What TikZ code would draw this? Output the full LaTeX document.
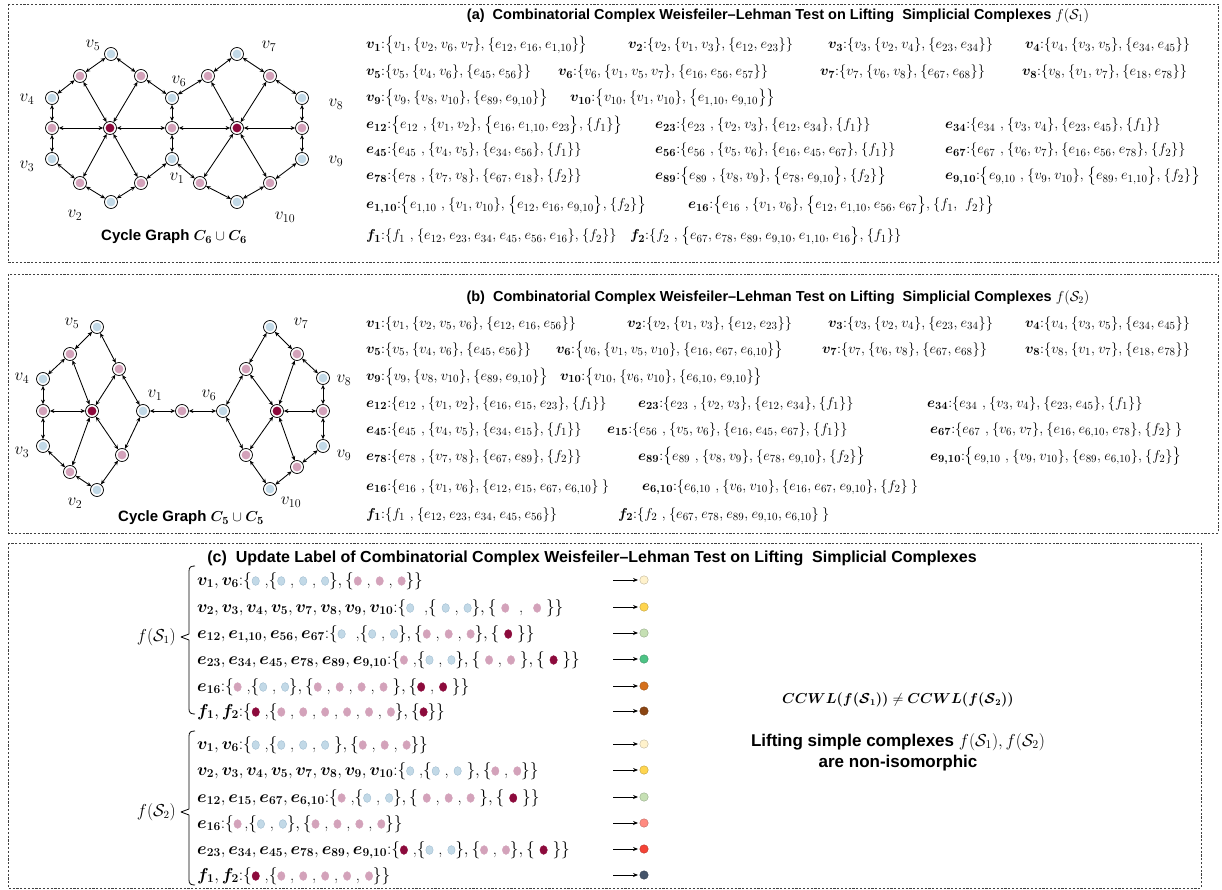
\documentclass[tikz,border=0pt]{standalone}
\usepackage{amsmath,amssymb}
\usepackage{bm}
\usepackage{fontspec}
\setsansfont{Liberation Sans}
\usetikzlibrary{arrows.meta}
\definecolor{nb}{HTML}{C2D9E7}
\definecolor{nbd}{HTML}{9FBCD0}
\definecolor{np}{HTML}{D3A2BA}
\definecolor{nd}{HTML}{8C0A3C}
\definecolor{rA}{HTML}{FFF2CC}
\definecolor{rB}{HTML}{FFD54F}
\definecolor{rC}{HTML}{C6E0B4}
\definecolor{rD}{HTML}{4DC385}
\definecolor{rE}{HTML}{D5701C}
\definecolor{rF}{HTML}{8B4513}
\definecolor{rG}{HTML}{FF8A80}
\definecolor{rH}{HTML}{F44336}
\definecolor{rI}{HTML}{44546A}
\newcommand{\BV}[1]{\bm{v_{#1}}}
\newcommand{\BE}[1]{\bm{e_{#1}}}
\newcommand{\BF}[1]{\bm{f_{#1}}}
\newcommand{\cc}{{,}}
\newcommand{\DB}{\tikz[baseline=-4pt,x=1pt,y=1pt]\filldraw[fill=nb,draw=nbd,line width=0.4pt](0,0) ellipse [x radius=3.7, y radius=4.4];}
\newcommand{\DP}{\tikz[baseline=-4pt,x=1pt,y=1pt]\filldraw[fill=np,draw=np,line width=0.4pt](0,0) ellipse [x radius=3.7, y radius=4.4];}
\newcommand{\DD}{\tikz[baseline=-4pt,x=1pt,y=1pt]\filldraw[fill=nd,draw=nd,line width=0.4pt](0,0) ellipse [x radius=3.7, y radius=4.4];}
\newcommand{\cm}{\hskip5pt,\hskip5pt}
\newcommand{\widecomma}{\thinmuskip=4mu\relax}
\tikzset{
  dbox/.style={draw=black!75, dash pattern=on 2.2pt off 1.6pt, line width=0.6pt},
  gn/.style={circle, draw=black, line width=0.75pt, fill=white, minimum size=13pt, inner sep=0pt,
     path picture={\fill[#1] (path picture bounding box.center) circle (4.4pt);}},
  ed/.style={{Stealth[length=4.5pt,width=4pt]}-{Stealth[length=4.5pt,width=4pt]}, line width=0.85pt},
  lab/.style={font=\fontsize{17}{17}\selectfont, inner sep=0pt},
  ttl/.style={font=\fontsize{14.5}{16}\selectfont\sffamily\bfseries, inner sep=0pt},
  captxt/.style={font=\fontsize{15}{17}\selectfont\sffamily\bfseries, inner sep=0pt},
  rowtxt/.style={anchor=base west, inner sep=0pt, font=\fontsize{15}{17}\selectfont, execute at begin node=\widecomma},
  erow/.style={anchor=base west, inner sep=0pt, font=\fontsize{15.5}{17}\selectfont, execute at begin node=\widecomma},
  crow/.style={anchor=base west, inner sep=0pt, font=\fontsize{16.5}{18}\selectfont},
  arr/.style={-{Stealth[length=5pt,width=4pt]}, line width=0.9pt, shorten >=1.5pt},
  res/.style={circle, minimum size=8.5pt, inner sep=0pt, draw=#1!75!black, fill=#1, line width=0.4pt},
  brk/.style={line width=0.8pt, line join=round}
}
\begin{document}
\begin{tikzpicture}[x=1pt,y=-1pt]
\useasboundingbox (0,0) rectangle (1222,890);
% panels
\draw[dbox] (8,4) rectangle (1218,262);
\draw[dbox] (8,274) rectangle (1218,533);
\draw[dbox] (8,543) rectangle (1201,888);

% ---------- graph (a)
\node[gn=nb] (aV5) at (111,54) {};
\node[gn=np] (aP45) at (80,76) {};
\node[gn=np] (aP56) at (141,76) {};
\node[gn=nb] (aV4) at (52,98) {};
\node[gn=np] (aP34) at (52,128) {};
\node[gn=nb] (aV3) at (52,159) {};
\node[gn=np] (aP23) at (80,183) {};
\node[gn=nb] (aV2) at (111,202) {};
\node[gn=np] (aP12) at (141,183) {};
\node[gn=nd] (aF1) at (110,128) {};
\node[gn=nb] (aV6) at (172,98) {};
\node[gn=np] (aP16) at (172,128) {};
\node[gn=nb] (aV1) at (172,159) {};
\node[gn=np] (aP67) at (208,76) {};
\node[gn=nb] (aV7) at (237,54) {};
\node[gn=np] (aP78) at (270,76) {};
\node[gn=nb] (aV8) at (302,98) {};
\node[gn=np] (aP89) at (302,128) {};
\node[gn=nb] (aV9) at (302,159) {};
\node[gn=np] (aP910) at (270,183) {};
\node[gn=nb] (aV10) at (237,202) {};
\node[gn=np] (aP110) at (200,183) {};
\node[gn=nd] (aF2) at (237,128) {};
\foreach \a/\b in {aV5/aP45,aP45/aV4,aV4/aP34,aP34/aV3,aV3/aP23,aP23/aV2,aV2/aP12,aP12/aV1,aV1/aP16,aP16/aV6,aV6/aP56,aP56/aV5,
  aF1/aP45,aF1/aP56,aF1/aP34,aF1/aP23,aF1/aP12,aF1/aP16,
  aV6/aP67,aP67/aV7,aV7/aP78,aP78/aV8,aV8/aP89,aP89/aV9,aV9/aP910,aP910/aV10,aV10/aP110,aP110/aV1,
  aF2/aP67,aF2/aP78,aF2/aP89,aF2/aP910,aF2/aP110,aF2/aP16}
  \draw[ed] (\a) -- (\b);
\node[lab] (laV5) at (93,45) {$v_5$};
\node[lab] (laV7) at (269,46) {$v_7$};
\node[lab] (laV6) at (179,81) {$v_6$};
\node[lab] (laV4) at (27,99) {$v_4$};
\node[lab] (laV8) at (336,104) {$v_8$};
\node[lab] (laV3) at (27,166) {$v_3$};
\node[lab] (laV9) at (336,161) {$v_9$};
\node[lab] (laV1) at (177,178) {$v_1$};
\node[lab] (laV2) at (75,215) {$v_2$};
\node[lab] (laV10) at (285,217) {$v_{10}$};
\node[captxt] (capa) at (174,237) {Cycle Graph $\bm{C_6}\cup\bm{C_6}$};

% ---------- graph (b)
\node[gn=nb] (bV5) at (97,327) {};
\node[gn=np] (bP45) at (70,354) {};
\node[gn=nb] (bV4) at (43,379) {};
\node[gn=np] (bP34) at (43,411) {};
\node[gn=nb] (bV3) at (43,446) {};
\node[gn=np] (bP23) at (70,472) {};
\node[gn=nb] (bV2) at (97,490) {};
\node[gn=np] (bP12) at (122,455) {};
\node[gn=nb] (bV1) at (143,411) {};
\node[gn=np] (bP15) at (119,369) {};
\node[gn=nd] (bF1) at (92,411) {};
\node[gn=np] (bP16) at (182,411) {};
\node[gn=nb] (bV6) at (223,411) {};
\node[gn=np] (bP67) at (246,369) {};
\node[gn=nb] (bV7) at (270,327) {};
\node[gn=np] (bP78) at (297,354) {};
\node[gn=nb] (bV8) at (323,378) {};
\node[gn=np] (bP89) at (323,411) {};
\node[gn=nb] (bV9) at (323,446) {};
\node[gn=np] (bP910) at (297,467) {};
\node[gn=nb] (bV10) at (270,489) {};
\node[gn=np] (bP610) at (246,455) {};
\node[gn=nd] (bF2) at (277,411) {};
\foreach \a/\b in {bV5/bP45,bP45/bV4,bV4/bP34,bP34/bV3,bV3/bP23,bP23/bV2,bV2/bP12,bP12/bV1,bV1/bP15,bP15/bV5,
  bF1/bP45,bF1/bP15,bF1/bP34,bF1/bP23,bF1/bP12,
  bV1/bP16,bP16/bV6,
  bV6/bP67,bP67/bV7,bV7/bP78,bP78/bV8,bV8/bP89,bP89/bV9,bV9/bP910,bP910/bV10,bV10/bP610,bP610/bV6,
  bF2/bP67,bF2/bP78,bF2/bP89,bF2/bP910,bF2/bP610}
  \draw[ed] (\a) -- (\b);
\node[lab] (lbV5) at (72,323) {$v_5$};
\node[lab] (lbV4) at (22,378) {$v_4$};
\node[lab] (lbV3) at (22,452) {$v_3$};
\node[lab] (lbV2) at (75,503) {$v_2$};
\node[lab] (lbV1) at (155,395) {$v_1$};
\node[lab] (lbV6) at (209,395) {$v_6$};
\node[lab] (lbV7) at (301,323) {$v_7$};
\node[lab] (lbV8) at (344,380) {$v_8$};
\node[lab] (lbV9) at (344,455) {$v_9$};
\node[lab] (lbV10) at (291,502) {$v_{10}$};
\node[captxt] (capb) at (191,518) {Cycle Graph $\bm{C_5}\cup\bm{C_5}$};

% ---------- text (a)
\node[ttl] (tta) at (778,16) {(a)\ \ Combinatorial Complex Weisfeiler–Lehman Test on Lifting\ \ Simplicial Complexes $f(\mathcal{S}_1)$};
\node[rowtxt] (a11) at (366,49) {$\BV{1}{:}\bigl\{v_1,\{v_2,v_6,v_7\},\{e_{12},e_{16},e_{1\cc10}\}\bigr\}$};
\node[rowtxt] (a12) at (628,49) {$\BV{2}{:}\{v_2,\{v_1,v_3\},\{e_{12},e_{23}\}\}$};
\node[rowtxt] (a13) at (828,49) {$\BV{3}{:}\{v_3,\{v_2,v_4\},\{e_{23},e_{34}\}\}$};
\node[rowtxt] (a14) at (1025,49) {$\BV{4}{:}\{v_4,\{v_3,v_5\},\{e_{34},e_{45}\}\}$};
\node[rowtxt] (a21) at (366,76) {$\BV{5}{:}\{v_5,\{v_4,v_6\},\{e_{45},e_{56}\}\}$};
\node[rowtxt] (a22) at (558,76) {$\BV{6}{:}\{v_6,\{v_1,v_5,v_7\},\{e_{16},e_{56},e_{57}\}\}$};
\node[rowtxt] (a23) at (820,76) {$\BV{7}{:}\{v_7,\{v_6,v_8\},\{e_{67},e_{68}\}\}$};
\node[rowtxt] (a24) at (1022,76) {$\BV{8}{:}\{v_8,\{v_1,v_7\},\{e_{18},e_{78}\}\}$};
\node[rowtxt] (a31) at (366,102) {$\BV{9}{:}\bigl\{v_9,\{v_8,v_{10}\},\{e_{89},e_{9\cc10}\}\bigr\}$};
\node[rowtxt] (a32) at (570,102) {$\BV{10}{:}\bigl\{v_{10},\{v_1,v_{10}\},\bigl\{e_{1\cc10},e_{9\cc10}\bigr\}\bigr\}$};
\node[erow] (a41) at (366,129) {$\BE{12}{:}\bigl\{e_{12}\ ,\{v_1,v_2\},\bigl\{e_{16},e_{1\cc10},e_{23}\bigr\},\{f_1\}\bigr\}$};
\node[erow] (a42) at (655,129) {$\BE{23}{:}\{e_{23}\ ,\{v_2,v_3\},\{e_{12},e_{34}\},\{f_1\}\}$};
\node[erow] (a43) at (945,129) {$\BE{34}{:}\{e_{34}\ ,\{v_3,v_4\},\{e_{23},e_{45}\},\{f_1\}\}$};
\node[erow] (a51) at (366,154) {$\BE{45}{:}\{e_{45}\ ,\{v_4,v_5\},\{e_{34},e_{56}\},\{f_1\}\}$};
\node[erow] (a52) at (655,154) {$\BE{56}{:}\{e_{56}\ ,\{v_5,v_6\},\{e_{16},e_{45},e_{67}\},\{f_1\}\}$};
\node[erow] (a53) at (945,154) {$\BE{67}{:}\{e_{67}\ ,\{v_6,v_7\},\{e_{16},e_{56},e_{78}\},\{f_2\}\}$};
\node[erow] (a61) at (366,180) {$\BE{78}{:}\{e_{78}\ ,\{v_7,v_8\},\{e_{67},e_{18}\},\{f_2\}\}$};
\node[erow] (a62) at (655,180) {$\BE{89}{:}\bigl\{e_{89}\ ,\{v_8,v_9\},\bigl\{e_{78},e_{9\cc10}\bigr\},\{f_2\}\bigr\}$};
\node[erow] (a63) at (945,180) {$\BE{9\cc10}{:}\bigl\{e_{9\cc10}\ ,\{v_9,v_{10}\},\bigl\{e_{89},e_{1\cc10}\bigr\},\{f_2\}\bigr\}$};
\node[erow] (a71) at (366,209) {$\BE{1\cc10}{:}\bigl\{e_{1\cc10}\ ,\{v_1,v_{10}\},\bigl\{e_{12},e_{16},e_{9\cc10}\bigr\},\{f_2\}\bigr\}$};
\node[erow] (a72) at (688,209) {$\BE{16}{:}\bigl\{e_{16}\ ,\{v_1,v_6\},\bigl\{e_{12},e_{1\cc10},e_{56},e_{67}\bigr\},\{f_1,\ f_2\}\bigr\}$};
\node[erow] (a81) at (366,240) {$\BF{1}{:}\{f_1\ ,\{e_{12},e_{23},e_{34},e_{45},e_{56},e_{16}\},\{f_2\}\}$};
\node[erow] (a82) at (630,240) {$\BF{2}{:}\{f_2\ ,\bigl\{e_{67},e_{78},e_{89},e_{9\cc10},e_{1\cc10},e_{16}\bigr\},\{f_1\}\}$};

% ---------- text (b)
\node[ttl] (ttb) at (778,298) {(b)\ \ Combinatorial Complex Weisfeiler–Lehman Test on Lifting\ \ Simplicial Complexes $f(\mathcal{S}_2)$};
\node[rowtxt] (b11) at (366,327) {$\BV{1}{:}\{v_1,\{v_2,v_5,v_6\},\{e_{12},e_{16},e_{56}\}\}$};
\node[rowtxt] (b12) at (627,327) {$\BV{2}{:}\{v_2,\{v_1,v_3\},\{e_{12},e_{23}\}\}$};
\node[rowtxt] (b13) at (828,327) {$\BV{3}{:}\{v_3,\{v_2,v_4\},\{e_{23},e_{34}\}\}$};
\node[rowtxt] (b14) at (1025,327) {$\BV{4}{:}\{v_4,\{v_3,v_5\},\{e_{34},e_{45}\}\}$};
\node[rowtxt] (b21) at (366,353) {$\BV{5}{:}\{v_5,\{v_4,v_6\},\{e_{45},e_{56}\}\}$};
\node[rowtxt] (b22) at (556,353) {$\BV{6}{:}\bigl\{v_6,\{v_1,v_5,v_{10}\},\{e_{16},e_{67},e_{6\cc10}\}\bigr\}$};
\node[rowtxt] (b23) at (822,353) {$\BV{7}{:}\{v_7,\{v_6,v_8\},\{e_{67},e_{68}\}\}$};
\node[rowtxt] (b24) at (1025,353) {$\BV{8}{:}\{v_8,\{v_1,v_7\},\{e_{18},e_{78}\}\}$};
\node[rowtxt] (b31) at (366,380) {$\BV{9}{:}\bigl\{v_9,\{v_8,v_{10}\},\{e_{89},e_{9\cc10}\}\bigr\}$};
\node[rowtxt] (b32) at (560,380) {$\BV{10}{:}\bigl\{v_{10},\{v_6,v_{10}\},\{e_{6\cc10},e_{9\cc10}\}\bigr\}$};
\node[erow] (b41) at (366,407) {$\BE{12}{:}\{e_{12}\ ,\{v_1,v_2\},\{e_{16},e_{15},e_{23}\},\{f_1\}\}$};
\node[erow] (b42) at (638,407) {$\BE{23}{:}\{e_{23}\ ,\{v_2,v_3\},\{e_{12},e_{34}\},\{f_1\}\}$};
\node[erow] (b43) at (927,407) {$\BE{34}{:}\{e_{34}\ ,\{v_3,v_4\},\{e_{23},e_{45}\},\{f_1\}\}$};
\node[erow] (b51) at (366,433) {$\BE{45}{:}\{e_{45}\ ,\{v_4,v_5\},\{e_{34},e_{15}\},\{f_1\}\}$};
\node[erow] (b52) at (607,433) {$\BE{15}{:}\{e_{56}\ ,\{v_5,v_6\},\{e_{16},e_{45},e_{67}\},\{f_1\}\}$};
\node[erow] (b53) at (930,433) {$\BE{67}{:}\{e_{67}\ ,\{v_6,v_7\},\{e_{16},e_{6\cc10},e_{78}\},\{f_2\}\,\}$};
\node[erow] (b61) at (366,460) {$\BE{78}{:}\{e_{78}\ ,\{v_7,v_8\},\{e_{67},e_{89}\},\{f_2\}\}$};
\node[erow] (b62) at (638,460) {$\BE{89}{:}\bigl\{e_{89}\ ,\{v_8,v_9\},\{e_{78},e_{9\cc10}\},\{f_2\}\bigr\}$};
\node[erow] (b63) at (930,460) {$\BE{9\cc10}{:}\bigl\{e_{9\cc10}\ ,\{v_9,v_{10}\},\{e_{89},e_{6\cc10}\},\{f_2\}\bigr\}$};
\node[erow] (b71) at (366,490) {$\BE{16}{:}\{e_{16}\ ,\{v_1,v_6\},\{e_{12},e_{15},e_{67},e_{6\cc10}\}\,\}$};
\node[erow] (b72) at (642,490) {$\BE{6\cc10}{:}\{e_{6\cc10}\ ,\{v_6,v_{10}\},\{e_{16},e_{67},e_{9\cc10}\},\{f_2\}\,\}$};
\node[erow] (b81) at (366,518) {$\BF{1}{:}\{f_1\ ,\{e_{12},e_{23},e_{34},e_{45},e_{56}\}\}$};
\node[erow] (b82) at (618,518) {$\BF{2}{:}\{f_2\ ,\{e_{67},e_{78},e_{89},e_{9\cc10},e_{6\cc10}\}\,\}$};

% ---------- (c)
\node[font=\fontsize{16}{18}\selectfont\sffamily\bfseries, inner sep=0pt] (ttc) at (592,558) {(c)\ \ Update Label of Combinatorial Complex Weisfeiler–Lehman Test on Lifting\ \ Simplicial Complexes};
\node[font=\fontsize{16}{16}\selectfont, inner sep=0pt, anchor=east] (fs1) at (176,637) {$f(\mathcal{S}_1)$};
\node[font=\fontsize{16}{16}\selectfont, inner sep=0pt, anchor=east] (fs2) at (176,812) {$f(\mathcal{S}_2)$};
\coordinate (k1) at (181,637);
\coordinate (k2) at (181,812);
\draw[brk] (195,566) .. controls (191,566) and (189,567) .. (189,571) -- (189,634) -- (k1) -- (189,640) -- (189,709) .. controls (189,713) and (191,714) .. (195,714);
\draw[brk] (195,731) .. controls (191,731) and (189,732) .. (189,736) -- (189,809) -- (k2) -- (189,815) -- (189,880) .. controls (189,884) and (191,885) .. (195,885);

\node[crow] (c11) at (197,585) {$\BV{1},\BV{6}{:}\{$\DB\ ,$\{$\DB\cm\DB\cm\DB$\},\{$\DP\cm\DP\cm\DP$\}\}$};
\node[crow] (c12) at (197,612) {$\BV{2},\BV{3},\BV{4},\BV{5},\BV{7},\BV{8},\BV{9},\BV{10}{:}\{$\DB\ \ ,$\{$\ \DB\cm\DB$\},\{$\ \DP\ \ ,\ \ \DP\ $\}\}$};
\node[crow] (c13) at (197,638) {$\BE{12},\BE{1\cc10},\BE{56},\BE{67}{:}\{$\DB\ \ ,$\{$\DB\cm\DB$\},\{$\DP\cm\DP\cm\DP$\},\{$\ \DD\ $\}\}$};
\node[crow] (c14) at (197,664) {$\BE{23},\BE{34},\BE{45},\BE{78},\BE{89},\BE{9\cc10}{:}\{$\DP\ ,$\{$\DB\cm\DB$\},\{$\ \DP\cm\DP\ $\},\{$\ \DD\ $\}\}$};
\node[crow] (c15) at (197,691) {$\BE{16}{:}\{$\DP\ ,$\{$\DB\cm\DB$\},\{$\DP\cm\DP\cm\DP\cm\DP\ $\},\{$\DD\cm\DD\ $\}\}$};
\node[crow] (c16) at (197,716) {$\BF{1},\BF{2}{:}\{$\DD\ ,$\{$\DP\cm\DP\cm\DP\cm\DP\cm\DP\cm\DP$\},\{$\DD$\}\}$};

\node[crow] (c21) at (197,749) {$\BV{1},\BV{6}{:}\{$\DB\ ,$\{$\DB\cm\DB\cm\DB\ $\},\{$\DP\cm\DP\cm\DP$\}\}$};
\node[crow] (c22) at (197,775) {$\BV{2},\BV{3},\BV{4},\BV{5},\BV{7},\BV{8},\BV{9},\BV{10}{:}\{$\DB\ ,$\{$\DB\cm\DB\ $\},\{$\DP\cm\DP$\}\}$};
\node[crow] (c23) at (197,802) {$\BE{12},\BE{15},\BE{67},\BE{6\cc10}{:}\{$\DP\ ,$\{$\DB\cm\DB$\},\{$\ \DP\cm\DP\cm\DP\ $\},\{$\ \DD\ $\}\}$};
\node[crow] (c24) at (197,828) {$\BE{16}{:}\{$\DP\,,$\{$\DB\cm\DB$\},\{$\DP\cm\DP\cm\DP\cm\DP$\}\}$};
\node[crow] (c25) at (197,854) {$\BE{23},\BE{34},\BE{45},\BE{78},\BE{89},\BE{9\cc10}{:}\{$\DD\ ,$\{$\DB\cm\DB$\},\{$\DP\cm\DP$\},\{$\ \DD\ $\}\}$};
\node[crow] (c26) at (197,880) {$\BF{1},\BF{2}{:}\{$\DD\ ,$\{$\DP\cm\DP\cm\DP\cm\DP\cm\DP$\}\}$};

% result arrows
\foreach \n/\y/\c in {1/580/rA,2/607/rB,3/633/rC,4/659/rD,5/686/rE,6/711/rF,7/744/rA,8/770/rB,9/797/rC,10/823/rG,11/849/rH,12/875/rI}{
  \coordinate (ra\n) at (613,\y);
  \node[res=\c] (rd\n) at (644,\y) {};
  \draw[arr] (ra\n) -- (rd\n);
}

\node[font=\fontsize{13.5}{15}\selectfont, inner sep=0pt] (eq) at (898,700) {$\bm{CCWL(f(\mathcal{S}_1))}\neq\bm{CCWL(f(\mathcal{S}_2))}$};
\node[align=center, font=\fontsize{17}{21}\selectfont\sffamily\bfseries, inner sep=0pt] (concl) at (898,752) {Lifting simple complexes $f(\mathcal{S}_1),f(\mathcal{S}_2)$\\are non-isomorphic};
\end{tikzpicture}
\end{document}
